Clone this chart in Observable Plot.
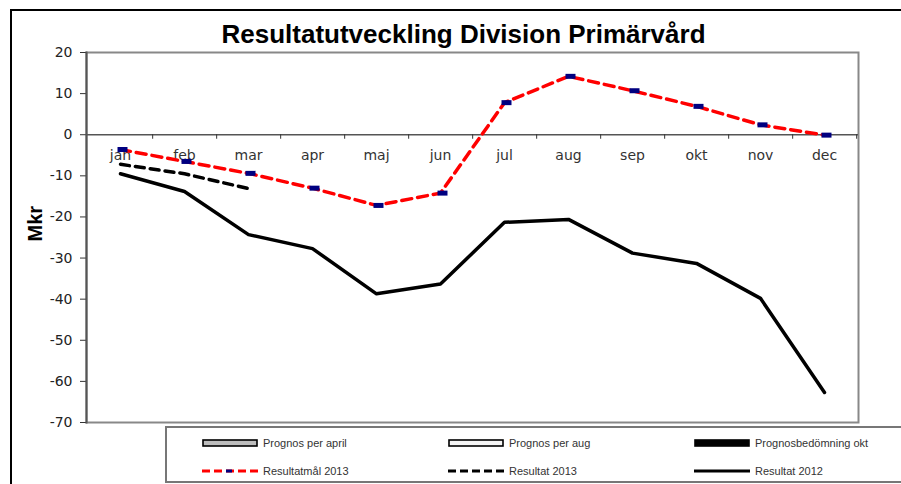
<!DOCTYPE html>
<html>
<head>
<meta charset="utf-8">
<script src="https://cdn.jsdelivr.net/npm/d3@7"></script>
<script src="https://cdn.jsdelivr.net/npm/@observablehq/plot@0.6"></script>
<style>
  body { margin: 0; background: #fff; font-family: "Liberation Sans", Arial, sans-serif; }
  #wrap { position: relative; width: 901px; height: 484px; overflow: hidden; }
  #border { position: absolute; left: 10px; top: 9px; width: 900px; height: 480px;
            border-top: 2px solid #000; border-left: 2px solid #000; box-sizing: border-box; }
  #chart { position: absolute; left: 0; top: 0; }
  #legend { position: absolute; left: 165px; top: 426px; width: 740px; height: 57px;
            border: 2px solid #777; box-sizing: border-box; background: #fff; }
  .item { position: absolute; height: 14px; display: flex; align-items: center;
          font-size: 11px; color: #333; white-space: nowrap; }
  .item svg { margin-right: 5px; }
</style>
</head>
<body>
<div id="wrap">
  <div id="border"></div>
  <div id="chart"></div>
  <div id="legend"></div>
</div>
<script>
const months = ["jan","feb","mar","apr","maj","jun","jul","aug","sep","okt","nov","dec"];
const resultatmal2013 = [-3.6, -6.5, -9.4, -13.0, -17.2, -14.2, 7.8, 14.2, 10.7, 6.9, 2.4, -0.1];
const resultat2013 = [-7.2, -9.5, -13.1];
const resultat2012 = [-9.5, -13.8, -24.3, -27.7, -38.7, -36.3, -21.3, -20.6, -28.8, -31.3, -39.8, -62.7];
const yTicks = [20, 10, 0, -10, -20, -30, -40, -50, -60, -70];
const title = "Resultatutveckling Division Primärvård";
const yLabel = "Mkr";
const legendItems = [
  {label: "Prognos per april", kind: "bar", fill: "#bdbdbd"},
  {label: "Prognos per aug", kind: "bar", fill: "#f4f4f4"},
  {label: "Prognosbedömning okt", kind: "bar", fill: "#000"},
  {label: "Resultatmål 2013", kind: "dash", stroke: "#ff0000", marker: true},
  {label: "Resultat 2013", kind: "dash", stroke: "#000"},
  {label: "Resultat 2012", kind: "solid", stroke: "#000"}
];

const tbl = arr => arr.map((v, i) => ({month: months[i], value: v}));
const step = (901 - 86 - 43) / months.length;

const rectSymbol = { draw(ctx) { ctx.rect(-5, -2.5, 10, 5); } };
const tickFont = "'DejaVu Sans', 'Liberation Sans', sans-serif";

const chart = Plot.plot({
  width: 901,
  height: 484,
  marginLeft: 86,
  marginRight: 43,
  marginTop: 52,
  marginBottom: 62,
  style: {fontFamily: "'Liberation Sans', Arial, sans-serif", background: "transparent", overflow: "visible"},
  x: {type: "point", domain: months, padding: 0.5, axis: null},
  y: {domain: [-70, 20], axis: null},
  marks: [
    Plot.frame({stroke: "#888", strokeWidth: 2}),
    Plot.axisY({ticks: yTicks, tickFormat: d => String(d), tickSize: 6, tickPadding: 8, fontSize: 14,
                fontFamily: tickFont, fill: "#222", stroke: "#333", label: null}),
    Plot.frame({anchor: "left", stroke: "#555", strokeWidth: 2}),
    Plot.ruleY([0], {stroke: "#555", strokeWidth: 1.5}),
    Plot.ruleX(months, {x: d => d, y1: 0, y2: -1.1, dx: step / 2, stroke: "#333", strokeWidth: 1}),
    Plot.text(months, {x: d => d, y: 0, dy: 21, fontSize: 14, fontFamily: tickFont, fill: "#333"}),
    Plot.line(tbl(resultat2012), {x: "month", y: "value", stroke: "#000", strokeWidth: 3.5}),
    Plot.line(tbl(resultat2013), {x: "month", y: "value", stroke: "#000", strokeWidth: 3.5, strokeDasharray: "9,6"}),
    Plot.line(tbl(resultatmal2013), {x: "month", y: "value", stroke: "#ff0000", strokeWidth: 3.5, strokeDasharray: "10,6"}),
    Plot.dot(tbl(resultatmal2013), {x: "month", y: "value", symbol: rectSymbol, fill: "#000080", stroke: "none", dx: 2}),
    Plot.text([title], {frameAnchor: "top", dx: -9, dy: -28, fontSize: 26, fontWeight: "bold", fill: "#000"}),
    Plot.text([yLabel], {frameAnchor: "left", dx: -51, dy: 4, rotate: -90, fontSize: 20, fontWeight: "bold", fill: "#000"})
  ]
});
document.getElementById("chart").appendChild(chart);

// legend
const legend = document.getElementById("legend");
const colX = [35, 281, 527];
const rowY = [8, 36];
legendItems.forEach((it, i) => {
  const div = document.createElement("div");
  div.className = "item";
  div.style.left = colX[i % 3] + "px";
  div.style.top = rowY[Math.floor(i / 3)] + "px";
  let sw;
  if (it.kind === "bar") {
    sw = `<svg width="56" height="10"><rect x="1" y="2" width="54" height="6" fill="${it.fill}" stroke="#000" stroke-width="1.6"/></svg>`;
  } else if (it.kind === "dash") {
    sw = `<svg width="56" height="10"><line x1="0" y1="5" x2="56" y2="5" stroke="${it.stroke}" stroke-width="3" stroke-dasharray="8,4"/>` +
         (it.marker ? `<rect x="24" y="3.5" width="6" height="3" fill="#000080"/>` : "") + `</svg>`;
  } else {
    sw = `<svg width="56" height="10"><line x1="0" y1="5" x2="56" y2="5" stroke="${it.stroke}" stroke-width="3"/></svg>`;
  }
  div.innerHTML = sw + `<span>${it.label}</span>`;
  legend.appendChild(div);
});
</script>
</body>
</html>
